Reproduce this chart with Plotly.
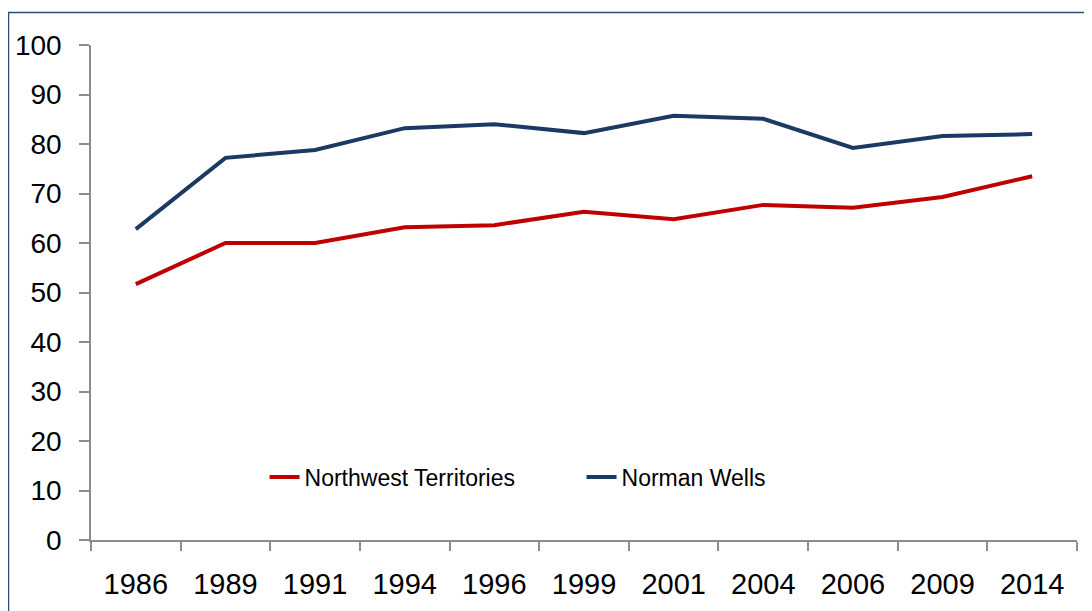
import plotly.graph_objects as go

years = ['1986', '1989', '1991', '1994', '1996', '1999', '2001', '2004', '2006', '2009', '2014']
nwt = [51.7, 60.0, 60.0, 63.2, 63.6, 66.3, 64.8, 67.7, 67.1, 69.3, 73.5]
norman_wells = [62.8, 77.2, 78.8, 83.2, 84.0, 82.2, 85.7, 85.1, 79.2, 81.6, 82.0]

# page body has an 8px margin, so the figure is a little smaller than the window
W, H = 1084, 603
L, R, T, B = 83, 15, 37, 71
pw, ph = W - L - R, H - T - B

font = 'Liberation Sans, Arial'

fig = go.Figure()
fig.add_trace(go.Scatter(x=years, y=nwt, mode='lines', name='Northwest Territories',
                         line=dict(color='#C00000', width=4)))
fig.add_trace(go.Scatter(x=years, y=norman_wells, mode='lines', name='Norman Wells',
                         line=dict(color='#1B3A63', width=4)))

# outer chart border (runs off the right and bottom of the picture)
fig.add_shape(type='rect', xref='paper', yref='paper',
              x0=(0.5 - L) / pw, x1=(W + 20 - L) / pw,
              y0=(H - B - (H + 20)) / ph, y1=(H - B - 4.5) / ph,
              line=dict(color='#2E4C7A', width=1.5), layer='below')

fig.update_layout(
    width=W, height=H,
    margin=dict(l=L, r=R, t=T, b=B, autoexpand=False),
    paper_bgcolor='white', plot_bgcolor='white',
    font=dict(family=font, size=28, color='black'),
    showlegend=True,
    legend=dict(orientation='h', x=0.176, y=0.127, yanchor='middle', xanchor='left',
                font=dict(size=23), entrywidth=272, bgcolor='rgba(0,0,0,0)'),
)
fig.update_xaxes(type='category', range=[-0.5, 10.5], showgrid=False, automargin=False,
                 showline=True, linecolor='#8C8C8C', linewidth=1.5,
                 ticks='outside', tickson='boundaries', ticklen=9, tickcolor='#8C8C8C',
                 tickwidth=1.5, ticklabelstandoff=17, tickfont=dict(size=29))
fig.update_yaxes(range=[0, 100], dtick=10, showgrid=False, zeroline=False, automargin=False,
                 showline=True, linecolor='#8C8C8C', linewidth=1.5,
                 ticks='outside', ticklen=10, tickcolor='#8C8C8C', tickwidth=1.5,
                 ticklabelstandoff=12)

fig.write_html('out.html')
